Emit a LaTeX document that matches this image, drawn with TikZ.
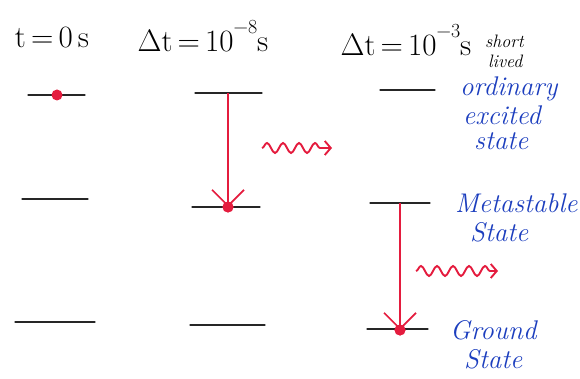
\documentclass[tikz,border=0pt]{standalone}
\usepackage{fontspec}
\setmainfont{Latin Modern Roman}
\usetikzlibrary{decorations.pathmorphing,arrows.meta}
\definecolor{pen}{RGB}{228,28,62}
\definecolor{ink}{RGB}{28,62,190}
\newcommand{\supx}[1]{\raisebox{0.6em}{\fontsize{20}{20}\selectfont #1}}
\begin{document}
\begin{tikzpicture}[x=1pt,y=-1pt,
  level/.style={line width=1.3pt,black!85,line cap=round},
  electron/.style={circle,fill=pen,inner sep=0pt,minimum size=11pt},
  decay/.style={draw=pen,line width=1.5pt,-{Straight Barb[length=16pt,width=32pt,line width=1.7pt]}},
  photon/.style={draw=pen,line width=1.9pt,decorate,
    decoration={snake,amplitude=5pt,segment length=16pt,post length=8pt},
    -{Straight Barb[length=6pt,width=14pt,line width=1.9pt]}},
  lab/.style={font=\fontsize{31}{32}\selectfont,inner sep=0pt,anchor=base},
  small/.style={font=\itshape\fontsize{18}{18}\selectfont,inner sep=0pt,anchor=base west},
  statelab/.style={text=ink,font=\itshape\fontsize{27}{27}\selectfont,inner sep=0pt,anchor=base west}]
\useasboundingbox (0,0) rectangle (580,379);

% time labels
\node[lab] (t0) at (52,48) {t\,=\,0\,s};
\node[lab] (t1) at (203,52) {Δt\,=\,10\supx{−8}s};
\node[lab] (t2) at (406,56) {Δt\,=\,10\supx{−3}s};

% energy levels
\coordinate (a1) at (28,95);  \coordinate (a2) at (85,95);
\coordinate (b1) at (22,199); \coordinate (b2) at (88,199);
\coordinate (c1) at (15,322); \coordinate (c2) at (95,322);

\coordinate (d1) at (195,93); \coordinate (d2) at (262,93);
\coordinate (e1) at (192,207); \coordinate (e2) at (260,207);
\coordinate (f1) at (190,325); \coordinate (f2) at (265,325);

\coordinate (g1) at (380,90); \coordinate (g2) at (435,90);
\coordinate (h1) at (370,203); \coordinate (h2) at (430,203);
\coordinate (i1) at (367,329); \coordinate (i2) at (428,329);

\foreach \p in {a,b,c,d,e,f,g,h,i} \draw[level] (\p1) -- (\p2);

% transitions
\coordinate (up2) at (228,93);
\coordinate (up3) at (400,203);
\node[electron] (el1) at (57,95) {};
\node[electron] (el2) at (228,207) {};
\node[electron] (el3) at (400,330) {};
\draw[decay] (up2) -- (el2.center);
\draw[decay] (up3) -- (el3.center);
\node[electron] at (el2) {};
\node[electron] at (el3) {};

% photons
\coordinate (p1s) at (262,148); \coordinate (p1e) at (332,148);
\coordinate (p2s) at (416,271); \coordinate (p2e) at (498,271);
\draw[photon] (p1s) -- (p1e);
\draw[photon] (p2s) -- (p2e);

% state labels
\node[small] (sl1) at (485,48) {short};
\node[small] (sl2) at (488,68) {lived};
\node[statelab] (ord1) at (460,96) {ordinary};
\node[statelab] (ord2) at (463,125) {excited};
\node[statelab] (ord3) at (474,150) {state};
\node[statelab] (meta1) at (455,213) {Metastable};
\node[statelab] (meta2) at (470,241) {State};
\node[statelab] (gnd1) at (450,339) {Ground};
\node[statelab] (gnd2) at (464,368) {State};
\end{tikzpicture}
\end{document}
